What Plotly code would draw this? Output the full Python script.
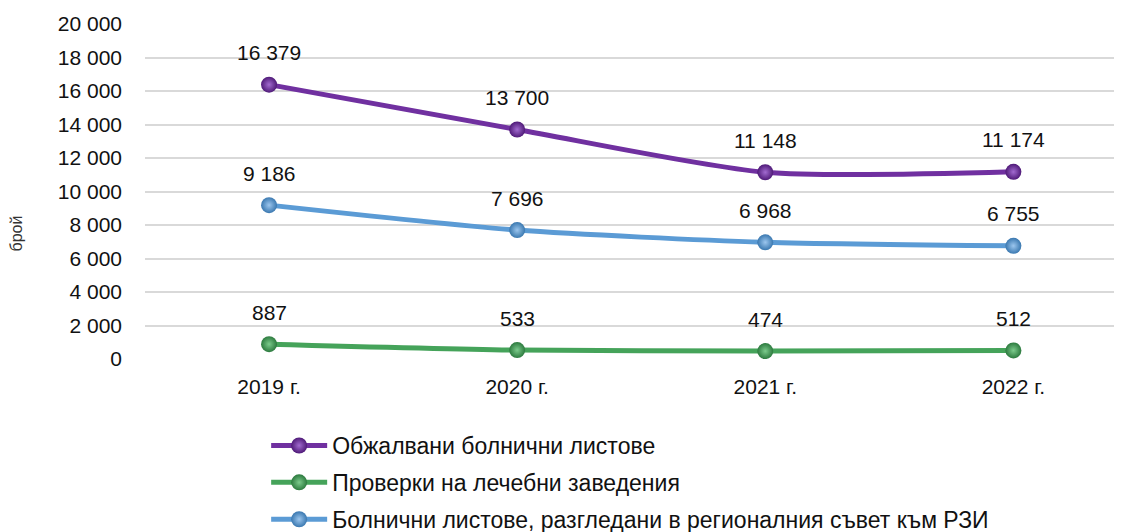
import plotly.graph_objects as go

years = ['2019 г.', '2020 г.', '2021 г.', '2022 г.']
appealed = [16379, 13700, 11148, 11174]
inspections = [887, 533, 474, 512]
reviewed = [9186, 7696, 6968, 6755]

names = [
    'Обжалвани болнични листове',
    'Проверки на лечебни заведения',
    'Болнични листове, разгледани в регионалния съвет към РЗИ',
]
colors = ['#7030A0', '#45A35A', '#5B9BD5']
dark = ['#4F1A78', '#2C7A3E', '#3A78B0']
light = ['#A26BD0', '#7CCB8C', '#9CC6EE']
series = [appealed, inspections, reviewed]

fig = go.Figure()

for i, (name, vals, col) in enumerate(zip(names, series, colors)):
    fig.add_trace(go.Scatter(
        x=years, y=vals, name=name, mode='lines+markers',
        legendgroup=f'g{i}',
        line=dict(color=col, width=5, shape='spline', smoothing=0.7),
        marker=dict(size=16, color=dark[i],
                    gradient=dict(type='radial', color=light[i]),
                    line=dict(width=0)),
    ))
    for x, y in zip(years, vals):
        fig.add_annotation(
            x=x, y=y, text=f'{y:,}'.replace(',', ' '), showarrow=False,
            yshift=32, font=dict(size=21, color='#111'),
        )

fig.add_annotation(
    text='брой', xref='paper', yref='paper', x=-0.13, y=0.5,
    xanchor='center', yanchor='middle', textangle=-90, showarrow=False,
    yshift=-42, font=dict(size=16, color='#333'),
)

# page has an 8px body margin, so the figure is offset by 8px
fig.update_layout(
    width=1122, height=532,
    margin=dict(l=137, r=0, t=16, b=181, autoexpand=False),
    paper_bgcolor='white', plot_bgcolor='white',
    font=dict(family='Liberation Sans, Arial, sans-serif', size=21, color='#111'),
    separators=', ',
    showlegend=True,
    legend=dict(
        x=0.123, y=0.218, xref='paper', yref='container',
        xanchor='left', yanchor='top',
        tracegroupgap=4, font=dict(size=23, color='#111'),
        itemwidth=56,
    ),
    xaxis=dict(range=[-0.5, 3.47], showgrid=False, showline=False,
               ticks='', tickfont=dict(size=21), ticklabelstandoff=13),
    yaxis=dict(range=[0, 20000], dtick=2000, tickformat=',d',
               gridcolor='#D9D9D9', gridwidth=2, zeroline=False,
               showline=False, ticks='', tickfont=dict(size=21),
               ticklabelstandoff=22),
)

fig.write_html('out.html')
